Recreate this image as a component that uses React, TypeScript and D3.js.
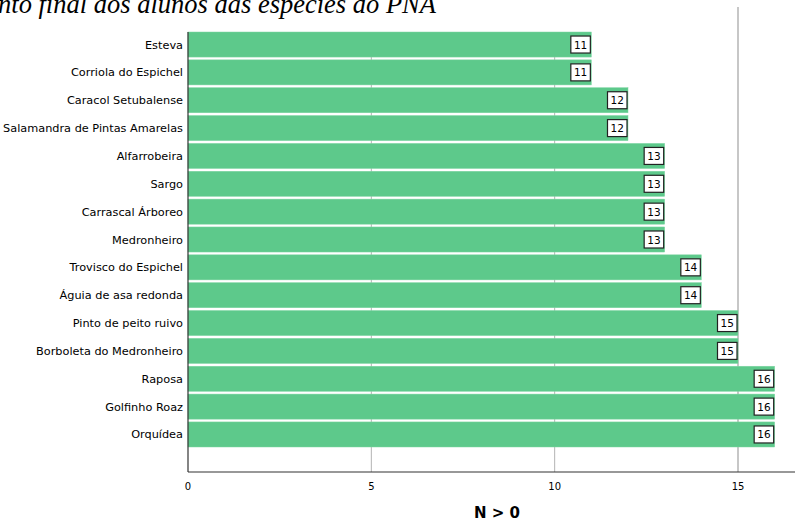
import React from 'react';
import * as d3 from 'd3';

// species, top to bottom as drawn
const species = [
  'Esteva',
  'Corriola do Espichel',
  'Caracol Setubalense',
  'Salamandra de Pintas Amarelas',
  'Alfarrobeira',
  'Sargo',
  'Carrascal Árboreo',
  'Medronheiro',
  'Trovisco do Espichel',
  'Águia de asa redonda',
  'Pinto de peito ruivo',
  'Borboleta do Medronheiro',
  'Raposa',
  'Golfinho Roaz',
  'Orquídea',
];
const counts = [11, 11, 12, 12, 13, 13, 13, 13, 14, 14, 15, 15, 16, 16, 16];
const xTicks = [0, 5, 10, 15];

const title = 'Conhecimento final dos alunos das espécies do PNA';
const xTitle = 'N > 0';

const W = 795;
const H = 525;
const left = 188;
const plotTop = 32;
const plotBottom = 472;

const App: React.FC = () => {
  const x = d3.scaleLinear().domain([0, 15]).range([left, 738]);
  const y = d3
    .scaleBand<string>()
    .domain(species)
    .range([plotTop, 447])
    .paddingInner(0.1)
    .paddingOuter(0);

  const font = '"DejaVu Sans", sans-serif';

  return (
    <svg
      width={W}
      height={H}
      style={{ position: 'absolute', left: 0, top: 0, background: '#fff' }}
    >
      {/* title, cut off on the left like the source */}
      <text
        x={436}
        y={13}
        textAnchor="end"
        fontFamily='"Liberation Serif", "Times New Roman", serif'
        fontStyle="italic"
        fontSize={26.5}
        fill="#000"
      >
        {title}
      </text>

      {/* grid */}
      {xTicks
        .filter((t) => t > 0)
        .map((t) => (
          <line
            key={t}
            x1={x(t)}
            x2={x(t)}
            y1={t === 15 ? 7 : plotTop}
            y2={plotBottom}
            stroke="#b4b4b4"
            strokeWidth={t === 15 ? 1.5 : 1}
          />
        ))}

      {/* bars */}
      {species.map((s, i) => (
        <rect
          key={s}
          x={x(0)}
          y={y(s)!}
          width={x(counts[i]) - x(0)}
          height={y.bandwidth()}
          fill="#5dc98b"
          stroke="#7fd6a3"
          strokeWidth={0.5}
        />
      ))}

      {/* value boxes */}
      {species.map((s, i) => {
        const xe = x(counts[i]);
        const cy = y(s)! + y.bandwidth() / 2;
        return (
          <g key={s + 'v'}>
            <rect
              x={xe - 20.5}
              y={cy - 8.5}
              width={19.5}
              height={17}
              fill="#fff"
              stroke="#222"
              strokeWidth={1.2}
            />
            <text
              x={xe - 10.75}
              y={cy + 4}
              textAnchor="middle"
              fontFamily={font}
              fontSize={10.5}
              fill="#000"
            >
              {counts[i]}
            </text>
          </g>
        );
      })}

      {/* category labels */}
      {species.map((s) => (
        <text
          key={s + 'l'}
          x={183}
          y={y(s)! + y.bandwidth() / 2 + 4}
          textAnchor="end"
          fontFamily={font}
          fontSize={11.3}
          fill="#000"
        >
          {s}
        </text>
      ))}

      {/* axes */}
      <line x1={left} x2={left} y1={plotTop} y2={plotBottom} stroke="#333" strokeWidth={1.2} />
      <line x1={left} x2={W} y1={plotBottom} y2={plotBottom} stroke="#333" strokeWidth={1.2} />

      {xTicks.map((t) => (
        <text
          key={'t' + t}
          x={x(t)}
          y={490}
          textAnchor="middle"
          fontFamily={font}
          fontSize={10}
          fill="#000"
        >
          {t}
        </text>
      ))}

      <text
        x={497}
        y={518}
        textAnchor="middle"
        fontFamily={font}
        fontSize={15}
        fontWeight="bold"
        fill="#000"
      >
        {xTitle}
      </text>
    </svg>
  );
};

export default App;
